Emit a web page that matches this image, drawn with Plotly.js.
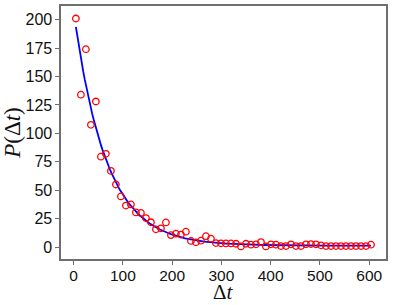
<!DOCTYPE html>
<html>
<head>
<meta charset="utf-8">
<script src="https://cdn.plot.ly/plotly-3.0.1.min.js"></script>
<style>html,body{margin:0;padding:0;background:#fff;}#chart{width:407px;height:305px;}</style>
</head>
<body>
<div id="chart"></div>
<script>
// Observed waiting-time histogram (bin centres, counts)
var dtValues = [4.7, 14.9, 25.0, 35.2, 45.3, 55.5, 65.6, 75.8, 85.9, 96.1,
  106.2, 116.4, 126.5, 136.7, 146.8, 157.0, 167.1, 177.3, 187.4, 197.6,
  207.7, 217.9, 228.0, 238.2, 248.3, 258.5, 268.6, 278.8, 288.9, 299.1,
  309.2, 319.4, 329.5, 339.7, 349.8, 360.0, 370.1, 380.3, 390.4, 400.6,
  410.7, 420.9, 431.0, 441.2, 451.3, 461.5, 471.6, 481.8, 491.9, 502.1,
  512.2, 522.4, 532.5, 542.7, 552.8, 563.0, 573.1, 583.3, 593.4, 603.6];
var countValues = [201, 134, 174, 107.5, 128, 79.5, 82, 67, 55, 44.5,
  36.5, 37.5, 30.5, 30, 25.5, 21.8, 15.6, 16.5, 21.7, 10.5,
  11.8, 11, 13.5, 5.4, 4.2, 5.6, 9.6, 7.4, 3.5, 3.3,
  3.2, 3.2, 2.9, 0.6, 2.9, 2.1, 2.4, 4.4, 0.6, 2.4,
  2.1, 0.9, 0.9, 2.4, 0.9, 0.9, 2.4, 2.6, 2.4, 1.5,
  0.9, 0.9, 0.9, 0.9, 0.9, 0.9, 0.9, 0.9, 0.9, 2.1];
// Exponential fit parameters: P = A*exp(-dt/tau) + C
var fitA = 206.7;
var fitTau = 65.5;
var fitC = 1.2;
var xTicks = [0, 100, 200, 300, 400, 500, 600];
var yTicks = [0, 25, 50, 75, 100, 125, 150, 175, 200];
var xTitle = 'Δ<i>t</i>';
var yTitle = '<i>P</i>(Δ<i>t</i>)';

var fitX = [], fitY = [];
var x0 = dtValues[0], x1 = dtValues[dtValues.length - 1];
for (var i = 0; i <= 200; i++) {
  var x = x0 + (x1 - x0) * i / 200;
  fitX.push(x);
  fitY.push(fitA * Math.exp(-x / fitTau) + fitC);
}

var traces = [
  {x: fitX, y: fitY, type: 'scatter', mode: 'lines',
   line: {color: '#0000ff', width: 1.8}, hoverinfo: 'skip'},
  {x: dtValues, y: countValues, type: 'scatter', mode: 'markers',
   marker: {symbol: 'circle-open', size: 6.5, color: '#ff0000', line: {width: 1.3, color: '#ff0000'}}}
];

var axisCommon = {
  showgrid: false, zeroline: false, showline: true, mirror: true,
  linecolor: '#6f6f6f', linewidth: 1.6,
  ticks: 'outside', ticklen: 4, tickwidth: 1, tickcolor: '#6f6f6f',
  tickfont: {family: 'Liberation Sans, Arial, sans-serif', size: 16, color: '#111'}
};
var titleFont = {family: 'Liberation Serif, DejaVu Serif, serif', size: 23, color: '#111'};

var layout = {
  width: 407, height: 305,
  margin: {l: 61, r: 21, t: 6, b: 46},
  paper_bgcolor: '#fff', plot_bgcolor: '#fff',
  showlegend: false,
  xaxis: Object.assign({}, axisCommon, {
    range: [-25.5, 634], tickvals: xTicks, ticktext: xTicks.map(String),
    ticklabelstandoff: -2,
    tickfont: {family: 'Liberation Sans, Arial, sans-serif', size: 15.5, color: '#111'}
  }),
  yaxis: Object.assign({}, axisCommon, {
    range: [-10.5, 212], tickvals: yTicks, ticktext: yTicks.map(String),
    title: {text: yTitle, standoff: 6, font: titleFont}
  }),
  annotations: [{
    text: xTitle, xref: 'paper', yref: 'paper', x: 0.5, y: -0.182,
    xanchor: 'center', yanchor: 'bottom', showarrow: false, borderpad: 0,
    font: {family: titleFont.family, size: 21, color: '#111'}
  }]
};

Plotly.newPlot('chart', traces, layout, {displayModeBar: false, staticPlot: true});
</script>
</body>
</html>
